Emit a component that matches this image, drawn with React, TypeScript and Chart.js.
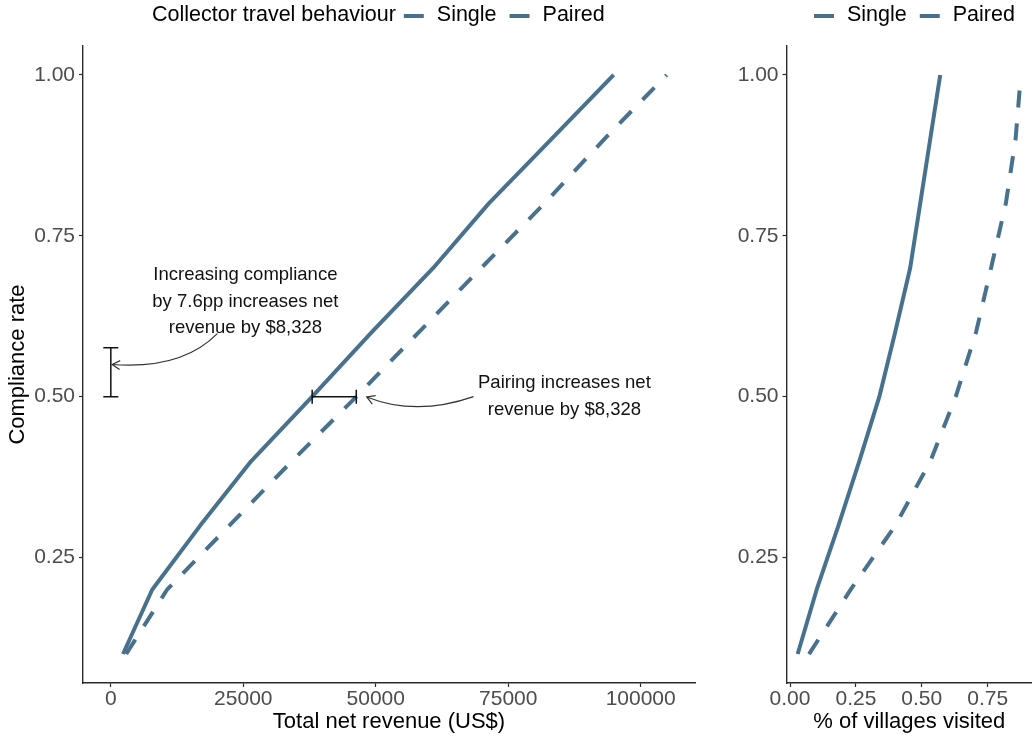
import React, { useEffect, useRef } from "react";
import { Chart, registerables } from "chart.js";

Chart.register(...registerables);

// ---------- data ----------
const complianceLevels = [0.1, 0.2, 0.3, 0.4, 0.5, 0.6, 0.7, 0.8, 0.9, 1.0];
const revenueSingle = [2300, 7800, 16900, 26500, 38000, 49200, 60850, 71300, 83100, 94900];
const revenuePaired = [2900, 10600, 22400, 34200, 46350, 58100, 69900, 81800, 93100, 104900];
const villagesSingle = [0.029, 0.101, 0.184, 0.263, 0.339, 0.399, 0.456, 0.494, 0.532, 0.57];
const villagesPaired = [0.072, 0.23, 0.4, 0.533, 0.629, 0.706, 0.763, 0.819, 0.856, 0.876];

const seriesNames = ["Single", "Paired"];
const legendTitle = "Collector travel behaviour";

const yTicks = [0.25, 0.5, 0.75, 1.0];
const revenueTicks = [0, 25000, 50000, 75000, 100000];
const villageTicks = [0, 0.25, 0.5, 0.75];

// error-bar annotations (data units)
const complianceBarX = 0;
const complianceBarLow = 0.5;
const complianceBarHigh = 0.576;
const pairingBarY = 0.5;
const pairingBarLow = 38000;
const pairingBarHigh = 46328;

const noteCompliance = ["Increasing compliance", "by 7.6pp increases net", "revenue by $8,328"];
const notePairing = ["Pairing increases net", "revenue by $8,328"];

// ---------- styling ----------
const LINE_COLOR = "#48718d";
const FONT = '"Liberation Sans", Arial, Helvetica, sans-serif';
const TICK_COLOR = "#4d4d4d";
const AXIS_COLOR = "#2b2b2b";

type Pt = { x: number; y: number };

function drawCurveArrow(ctx: CanvasRenderingContext2D, p0: Pt, c: Pt, p2: Pt) {
  ctx.beginPath();
  ctx.moveTo(p0.x, p0.y);
  ctx.quadraticCurveTo(c.x, c.y, p2.x, p2.y);
  ctx.stroke();
  const ang = Math.atan2(p2.y - c.y, p2.x - c.x);
  const len = 9;
  const spread = Math.PI / 6;
  ctx.beginPath();
  ctx.moveTo(p2.x - len * Math.cos(ang - spread), p2.y - len * Math.sin(ang - spread));
  ctx.lineTo(p2.x, p2.y);
  ctx.lineTo(p2.x - len * Math.cos(ang + spread), p2.y - len * Math.sin(ang + spread));
  ctx.stroke();
}

function drawLegend(ctx: CanvasRenderingContext2D, startX: number, y: number, title: string | null) {
  ctx.save();
  ctx.font = `21.5px ${FONT}`;
  ctx.fillStyle = "#000";
  ctx.textBaseline = "middle";
  ctx.textAlign = "left";
  let x = startX;
  if (title) {
    ctx.fillText(title, x, y);
    x += ctx.measureText(title).width + 8;
  }
  seriesNames.forEach((name) => {
    ctx.strokeStyle = LINE_COLOR;
    ctx.lineWidth = 4;
    ctx.lineCap = "butt";
    ctx.beginPath();
    ctx.moveTo(x, y + 1);
    ctx.lineTo(x + 20, y + 1);
    ctx.stroke();
    x += 20 + 13;
    ctx.fillText(name, x, y);
    x += ctx.measureText(name).width + 13;
  });
  ctx.restore();
}

function makeDecorPlugin(opts: {
  xTitle: string;
  yTitle: string | null;
  legendX: number;
  legendTitle: string | null;
  annotate: boolean;
}) {
  return {
    id: "decor",
    afterDraw(chart: any) {
      const ctx: CanvasRenderingContext2D = chart.ctx;
      const area = chart.chartArea;
      const xs = chart.scales.x;
      const ys = chart.scales.y;
      ctx.save();
      // axis titles
      ctx.fillStyle = "#000";
      ctx.font = `22px ${FONT}`;
      ctx.textAlign = "center";
      ctx.textBaseline = "middle";
      ctx.fillText(opts.xTitle, (area.left + area.right) / 2, 722);
      if (opts.yTitle) {
        ctx.save();
        ctx.translate(18, (area.top + area.bottom) / 2);
        ctx.rotate(-Math.PI / 2);
        ctx.fillText(opts.yTitle, 0, 0);
        ctx.restore();
      }
      drawLegend(ctx, opts.legendX, 15, opts.legendTitle);

      if (opts.annotate) {
        // error bars
        ctx.strokeStyle = "#111";
        ctx.lineWidth = 1.5;
        const bx = xs.getPixelForValue(complianceBarX);
        const by0 = ys.getPixelForValue(complianceBarLow);
        const by1 = ys.getPixelForValue(complianceBarHigh);
        ctx.beginPath();
        ctx.moveTo(bx, by0);
        ctx.lineTo(bx, by1);
        ctx.moveTo(bx - 7.5, by0);
        ctx.lineTo(bx + 7.5, by0);
        ctx.moveTo(bx - 7.5, by1);
        ctx.lineTo(bx + 7.5, by1);
        ctx.stroke();

        const hy = ys.getPixelForValue(pairingBarY);
        const hx0 = xs.getPixelForValue(pairingBarLow);
        const hx1 = xs.getPixelForValue(pairingBarHigh);
        ctx.beginPath();
        ctx.moveTo(hx0, hy);
        ctx.lineTo(hx1, hy);
        ctx.moveTo(hx0, hy - 7);
        ctx.lineTo(hx0, hy + 7);
        ctx.moveTo(hx1, hy - 7);
        ctx.lineTo(hx1, hy + 7);
        ctx.stroke();

        // notes
        ctx.fillStyle = "#111";
        ctx.font = `18.5px ${FONT}`;
        ctx.textAlign = "center";
        ctx.textBaseline = "middle";
        const lh = 26.6;
        const n1x = xs.getPixelForValue(25400);
        const n1y = ys.getPixelForValue(0.648);
        noteCompliance.forEach((t, i) => {
          ctx.fillText(t, n1x, n1y + (i - (noteCompliance.length - 1) / 2) * lh);
        });
        const n2x = xs.getPixelForValue(85600);
        const n2y = ys.getPixelForValue(0.5);
        notePairing.forEach((t, i) => {
          ctx.fillText(t, n2x, n2y + (i - (notePairing.length - 1) / 2) * lh);
        });

        // curved arrows
        ctx.strokeStyle = "#333";
        ctx.lineWidth = 1.2;
        const P = (x: number, y: number): Pt => ({ x: xs.getPixelForValue(x), y: ys.getPixelForValue(y) });
        drawCurveArrow(ctx, P(20100, 0.598), P(13400, 0.542), P(250, 0.55));
        drawCurveArrow(ctx, P(68450, 0.5), P(57600, 0.469), P(48300, 0.4995));
      }
      ctx.restore();
    },
  };
}

function makeConfig(
  xs1: number[],
  xs2: number[],
  xMin: number,
  xMax: number,
  xTickVals: number[],
  xFmt: (v: number) => string,
  yAxisWidth: number,
  padRight: number,
  plugin: any
): any {
  const mk = (xs: number[], dashed: boolean, label: string) => ({
    label,
    data: xs.map((x, i) => ({ x, y: complianceLevels[i] })),
    showLine: true,
    borderColor: LINE_COLOR,
    backgroundColor: LINE_COLOR,
    borderWidth: 4,
    borderDash: dashed ? [17, 16] : [],
    borderCapStyle: "butt",
    borderJoinStyle: "round",
    pointRadius: 0,
    pointHoverRadius: 0,
    fill: false,
    tension: 0,
  });
  return {
    type: "scatter",
    data: { datasets: [mk(xs1, false, seriesNames[0]), mk(xs2, true, seriesNames[1])] },
    options: {
      responsive: false,
      animation: false,
      devicePixelRatio: 1,
      layout: { padding: { top: 46, right: padRight, left: 0, bottom: 0 } },
      plugins: { legend: { display: false }, tooltip: { enabled: false } },
      events: [],
      scales: {
        x: {
          type: "linear",
          min: xMin,
          max: xMax,
          afterBuildTicks: (s: any) => {
            s.ticks = xTickVals.map((v) => ({ value: v }));
          },
          afterFit: (s: any) => {
            s.height = 53;
          },
          ticks: {
            callback: (v: any) => xFmt(Number(v)),
            font: { family: FONT, size: 21 },
            color: TICK_COLOR,
            padding: 0,
            maxRotation: 0,
            autoSkip: false,
          },
          grid: {
            display: true,
            drawOnChartArea: false,
            drawTicks: true,
            tickLength: 4,
            tickColor: AXIS_COLOR,
            tickWidth: 1.2,
          },
          border: { display: true, color: AXIS_COLOR, width: 1.4 },
        },
        y: {
          type: "linear",
          min: 0.055,
          max: 1.045,
          afterBuildTicks: (s: any) => {
            s.ticks = yTicks.map((v) => ({ value: v }));
          },
          afterFit: (s: any) => {
            s.width = yAxisWidth;
          },
          ticks: {
            callback: (v: any) => Number(v).toFixed(2),
            font: { family: FONT, size: 21 },
            color: TICK_COLOR,
            padding: 4,
            autoSkip: false,
          },
          grid: {
            display: true,
            drawOnChartArea: false,
            drawTicks: true,
            tickLength: 4,
            tickColor: AXIS_COLOR,
            tickWidth: 1.2,
          },
          border: { display: true, color: AXIS_COLOR, width: 1.4 },
        },
      },
    },
    plugins: [plugin],
  };
}

export default function App() {
  const leftRef = useRef<HTMLCanvasElement>(null);
  const rightRef = useRef<HTMLCanvasElement>(null);

  useEffect(() => {
    const leftCfg = makeConfig(
      revenueSingle,
      revenuePaired,
      -5250,
      110250,
      revenueTicks,
      (v) => String(Math.round(v)),
      83,
      25,
      makeDecorPlugin({
        xTitle: "Total net revenue (US$)",
        yTitle: "Compliance rate",
        legendX: 152,
        legendTitle: legendTitle,
        annotate: true,
      })
    );
    const rightCfg = makeConfig(
      villagesSingle,
      villagesPaired,
      -0.0134,
      0.9184,
      villageTicks,
      (v) => v.toFixed(2),
      66.5,
      0,
      makeDecorPlugin({
        xTitle: "% of villages visited",
        yTitle: null,
        legendX: 94,
        legendTitle: null,
        annotate: false,
      })
    );
    const c1 = new Chart(leftRef.current as HTMLCanvasElement, leftCfg);
    const c2 = new Chart(rightRef.current as HTMLCanvasElement, rightCfg);
    return () => {
      c1.destroy();
      c2.destroy();
    };
  }, []);

  return (
    <div style={{ position: "absolute", left: 0, top: 0, width: 1032, height: 736, background: "#fff" }}>
      <canvas
        ref={leftRef}
        width={720}
        height={736}
        style={{ position: "absolute", left: 0, top: 0, width: 720, height: 736 }}
      />
      <canvas
        ref={rightRef}
        width={312}
        height={736}
        style={{ position: "absolute", left: 720, top: 0, width: 312, height: 736 }}
      />
    </div>
  );
}
